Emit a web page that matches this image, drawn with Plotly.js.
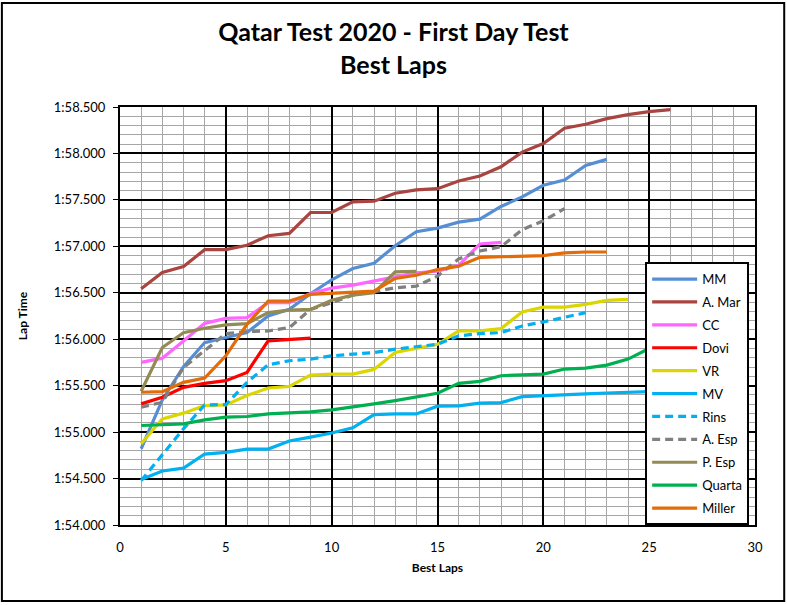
<!DOCTYPE html>
<html>
<head>
<meta charset="utf-8">
<script src="https://cdn.plot.ly/plotly-3.0.1.min.js"></script>
<style>
  body { margin: 0; background: #fff; }
  #plotarea { width: 787px; height: 605px; }
</style>
</head>
<body>
<div id="plotarea"></div>
<script>
// best lap times per rider, in seconds (1:56.543 -> 116.543)
let riders = ['MM', 'A. Mar', 'CC', 'Dovi', 'VR', 'MV', 'Rins', 'A. Esp', 'P. Esp', 'Quarta', 'Miller'];
let colors = ['#558ed5', '#aa4440', '#ff66ff', '#ff0000', '#dcd600', '#00b0f0', '#00b0f0', '#808080', '#948a54', '#00b050', '#e36c09'];
let dashed = [false, false, false, false, false, false, true, true, false, false, false];

let mm = [114.821, 115.346, 115.704, 115.964, 116.018, 116.071, 116.25, 116.321, 116.49, 116.64, 116.761, 116.818, 117.007, 117.157, 117.196, 117.261, 117.293, 117.429, 117.532, 117.657, 117.714, 117.871, 117.936];
let aMar = [116.543, 116.718, 116.782, 116.964, 116.964, 117.012, 117.114, 117.139, 117.364, 117.364, 117.479, 117.486, 117.571, 117.607, 117.621, 117.704, 117.757, 117.857, 118.014, 118.107, 118.271, 118.314, 118.375, 118.418, 118.45, 118.471];
let cc = [115.75, 115.796, 115.982, 116.171, 116.225, 116.232, 116.393, 116.393, 116.493, 116.55, 116.582, 116.625, 116.668, 116.714, 116.732, 116.796, 117.025, 117.043];
let dovi = [115.304, 115.375, 115.482, 115.525, 115.554, 115.643, 115.982, 115.993, 116.011];
let vr = [114.875, 115.143, 115.204, 115.286, 115.293, 115.393, 115.475, 115.493, 115.614, 115.625, 115.625, 115.675, 115.857, 115.9, 115.946, 116.089, 116.089, 116.114, 116.293, 116.346, 116.346, 116.375, 116.418, 116.429];
let mv = [114.49, 114.582, 114.612, 114.764, 114.782, 114.817, 114.817, 114.904, 114.946, 114.99, 115.046, 115.189, 115.196, 115.196, 115.279, 115.282, 115.311, 115.318, 115.382, 115.389, 115.4, 115.411, 115.421, 115.429, 115.435];
let rins = [114.478, 114.76, 115.036, 115.293, 115.296, 115.536, 115.725, 115.768, 115.786, 115.821, 115.839, 115.857, 115.893, 115.918, 115.946, 116.036, 116.061, 116.071, 116.143, 116.186, 116.232, 116.286];
let aEsp = [115.268, 115.321, 115.696, 115.875, 116.061, 116.082, 116.089, 116.125, 116.321, 116.393, 116.475, 116.511, 116.554, 116.571, 116.679, 116.864, 116.95, 116.995, 117.18, 117.275, 117.407];
let pEsp = [115.44, 115.911, 116.071, 116.118, 116.154, 116.168, 116.286, 116.314, 116.321, 116.42, 116.475, 116.5, 116.725, 116.73];
let quarta = [115.071, 115.079, 115.089, 115.132, 115.161, 115.168, 115.196, 115.207, 115.218, 115.24, 115.268, 115.304, 115.339, 115.375, 115.418, 115.525, 115.546, 115.607, 115.618, 115.625, 115.679, 115.689, 115.721, 115.786, 115.9];
let miller = [115.429, 115.436, 115.536, 115.582, 115.821, 116.161, 116.411, 116.411, 116.482, 116.495, 116.511, 116.518, 116.654, 116.689, 116.75, 116.786, 116.882, 116.889, 116.889, 116.9, 116.929, 116.939, 116.939];

let series = [mm, aMar, cc, dovi, vr, mv, rins, aEsp, pEsp, quarta, miller];

let yTickVals = [114, 114.5, 115, 115.5, 116, 116.5, 117, 117.5, 118, 118.5];
let yTickText = ['1:54.000', '1:54.500', '1:55.000', '1:55.500', '1:56.000', '1:56.500', '1:57.000', '1:57.500', '1:58.000', '1:58.500'];

let traces = series.map((ys, k) => {
    return {
        x: ys.map((v, i) => i + 1),
        y: ys,
        name: riders[k],
        legendgroup: 'g' + k,
        mode: 'lines',
        line: {color: colors[k], width: 3.2, dash: dashed[k] ? '8px,5px' : 'solid'}
    };
});

let fontName = 'Lato, "Liberation Sans", sans-serif';

let layout = {
    width: 787,
    height: 605,
    margin: {l: 120, r: 32, t: 107, b: 80},
    paper_bgcolor: '#ffffff',
    plot_bgcolor: '#ffffff',
    font: {family: fontName, size: 13, color: '#000'},
    title: {
        text: 'Qatar Test 2020 - First Day Test<br>Best Laps',
        font: {family: fontName, size: 25, weight: 'bold', color: '#000'},
        x: 0.5, xref: 'container', xanchor: 'center',
        y: 0.932, yref: 'container', yanchor: 'top'
    },
    xaxis: {
        range: [0, 30],
        tickmode: 'linear', tick0: 0, dtick: 5,
        showgrid: true, gridcolor: '#000', gridwidth: 2,
        minor: {tickmode: 'linear', tick0: 0, dtick: 1, showgrid: true, gridcolor: '#a6a6a6', gridwidth: 1},
        showline: true, linecolor: '#000', linewidth: 2, mirror: true,
        zeroline: false,
        ticks: '', ticklen: 0,
        ticklabelstandoff: 9,
        tickfont: {size: 13},
        title: {text: 'Best Laps', font: {size: 12, weight: 'bold'}, standoff: 10}
    },
    yaxis: {
        range: [114, 118.5],
        tickmode: 'array', tickvals: yTickVals, ticktext: yTickText,
        showgrid: true, gridcolor: '#000', gridwidth: 2,
        minor: {tickmode: 'linear', tick0: 114, dtick: 0.1, showgrid: true, gridcolor: '#a6a6a6', gridwidth: 1},
        showline: true, linecolor: '#000', linewidth: 2, mirror: true,
        zeroline: false,
        ticks: 'outside', ticklen: 5, tickcolor: '#000',
        ticklabelstandoff: 5,
        tickfont: {size: 13},
        title: {text: 'Lap Time', font: {size: 12, weight: 'bold'}, standoff: 24}
    },
    showlegend: true,
    legend: {
        x: 0.827, xanchor: 'left',
        y: 0.629, yanchor: 'top',
        bgcolor: '#ffffff',
        bordercolor: '#000', borderwidth: 2,
        font: {size: 13, color: '#000'},
        traceorder: 'grouped',
        tracegroupgap: 3,
        itemwidth: 45
    },
    shapes: [{
        type: 'rect', xref: 'paper', yref: 'paper',
        x0: -0.186, x1: 1.046, y0: -0.182, y1: 1.249,
        line: {color: '#000', width: 2}
    }]
};

Plotly.newPlot('plotarea', traces, layout, {displayModeBar: false, displaylogo: false});
</script>
</body>
</html>
